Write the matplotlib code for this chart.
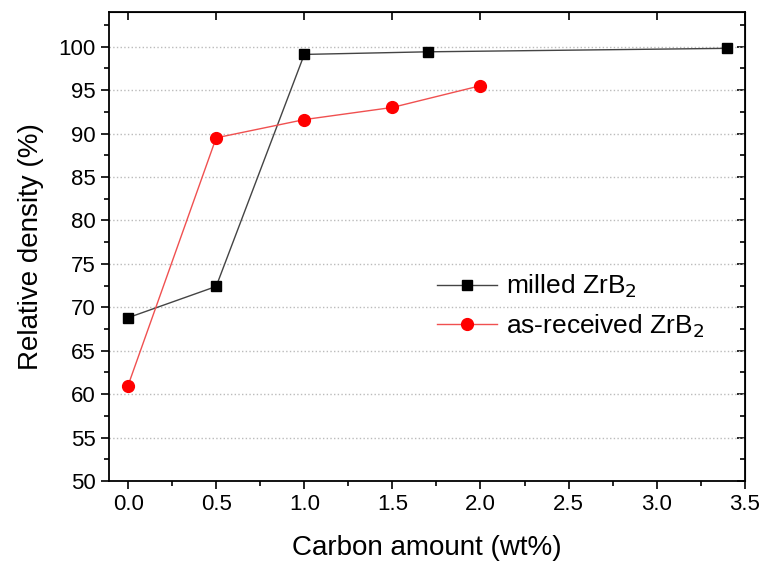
import matplotlib
matplotlib.use("Agg")
import matplotlib.pyplot as plt
from matplotlib.ticker import MultipleLocator, FormatStrFormatter

plt.rcParams['font.family'] = ['Liberation Sans', 'DejaVu Sans']

milled_x = [0.0, 0.5, 1.0, 1.7, 3.4]
milled_y = [68.8, 72.4, 99.1, 99.4, 99.8]
asrec_x = [0.0, 0.5, 1.0, 1.5, 2.0]
asrec_y = [61.0, 89.5, 91.6, 93.0, 95.5]

fig = plt.figure(figsize=(7.6, 5.64), dpi=100)
ax = fig.add_axes([0.143, 0.147, 0.837, 0.832])

ax.plot(milled_x, milled_y, color='#444444', lw=1, marker='s', ms=7.5,
        mfc='black', mec='black', label='milled ZrB$_2$')
ax.plot(asrec_x, asrec_y, color='#f05050', lw=1, marker='o', ms=8.5,
        mfc='red', mec='red', label='as-received ZrB$_2$')

ax.set_xlim(-0.11, 3.5)
ax.set_ylim(50, 104.0)
ax.xaxis.set_major_locator(MultipleLocator(0.5))
ax.xaxis.set_minor_locator(MultipleLocator(0.25))
ax.yaxis.set_major_locator(MultipleLocator(5))
ax.yaxis.set_minor_locator(MultipleLocator(2.5))
ax.xaxis.set_major_formatter(FormatStrFormatter('%.1f'))
ax.yaxis.grid(True, which='major', ls=':', color='#bbbbbb', lw=1)

for s in ax.spines.values():
    s.set_linewidth(1.3)

ax.tick_params(which='both', direction='out', labelsize=16, width=1.2)
ax.tick_params(which='major', length=6)
ax.tick_params(which='minor', length=3.5)

# inward ticks on top (major only) and right (major and minor)
top = ax.secondary_xaxis('top')
top.set_xticks([0, 0.5, 1.0, 1.5, 2.0, 2.5, 3.0, 3.5])
top.tick_params(direction='in', length=6, width=1.2, labeltop=False)
right = ax.secondary_yaxis('right')
right.yaxis.set_major_locator(MultipleLocator(5))
right.yaxis.set_minor_locator(MultipleLocator(2.5))
right.tick_params(which='both', direction='in', width=1.2, labelright=False)
right.tick_params(which='major', length=6)
right.tick_params(which='minor', length=3.5)

ax.set_xlabel('Carbon amount (wt%)', fontsize=20, labelpad=14)
ax.set_ylabel('Relative density (%)', fontsize=20, labelpad=10)

ax.legend(loc='center left', bbox_to_anchor=(0.557, 0.457),
          bbox_transform=fig.transFigure, frameon=False, borderpad=0,
          fontsize=19, handlelength=2.3, handletextpad=0.35, labelspacing=0.45)

fig.savefig('out.png', dpi=100)
